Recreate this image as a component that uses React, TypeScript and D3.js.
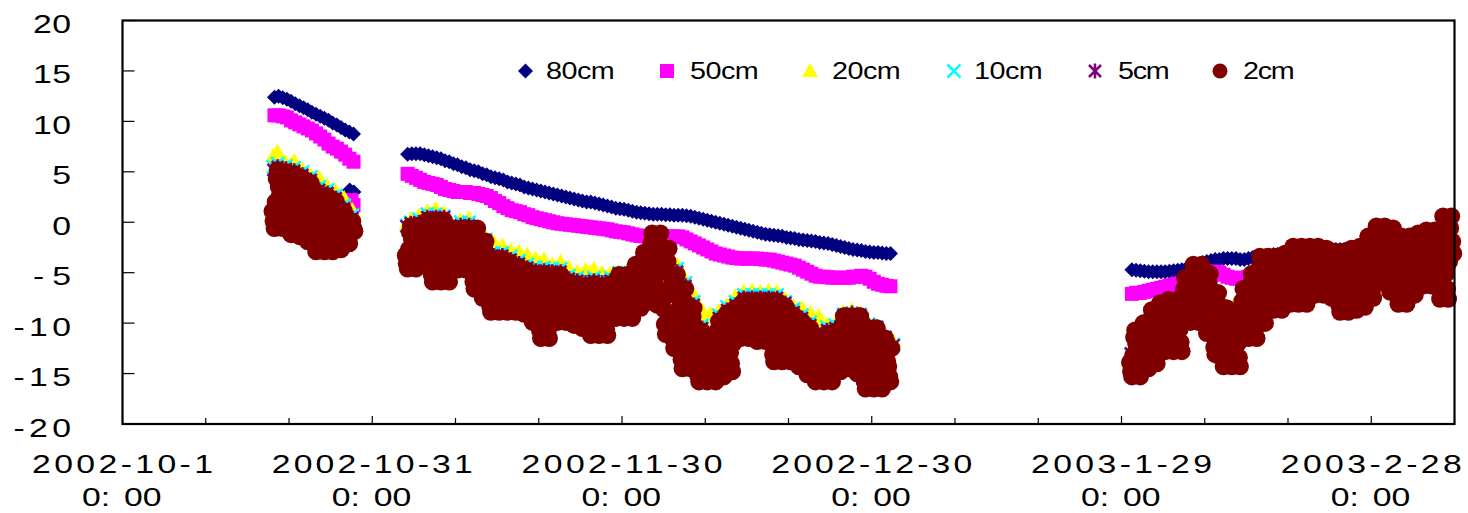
import React from "react";
import * as d3 from "d3";

// ---------- axis / labels ----------
const AXIS_START = "2002-10-01T00:00:00Z";
const AXIS_END = "2003-03-10T00:00:00Z";
const Y_TICKS = [20, 15, 10, 5, 0, -5, -10, -15, -20];
const X_TICK_EVERY_DAYS = 10;
const X_LABEL_DAYS = [0, 30, 60, 90, 120, 150];
const X_LABELS_LINE1 = ["2002-10-1", "2002-10-31", "2002-11-30", "2002-12-30", "2003-1-29", "2003-2-28"];
const X_LABEL_LINE2 = "0:00";

// ---------- series meta ----------
const SERIES_NAMES = ["80cm", "50cm", "20cm", "10cm", "5cm", "2cm"];
const SERIES_COLORS = ["#000080", "#FF00FF", "#FFFF00", "#00FFFF", "#800080", "#800000"];

// run start times (three observation periods)
const DEEP_STARTS = ["2002-10-19T06:00:00Z", "2002-11-04T06:00:00Z", "2003-01-30T06:00:00Z"]; // every 12 h
const MID_STARTS = ["2002-10-19T03:00:00Z", "2002-11-04T03:00:00Z", "2003-01-30T03:00:00Z"]; // every 12 h (03h, 15h)
const CM2_STARTS = ["2002-10-19T00:00:00Z", "2002-11-04T00:00:00Z", "2003-01-30T00:00:00Z"]; // every 3 h

// ---------- 80cm (12-hourly) ----------
const cm80_run1 = [12.4, 12.5, 12.35, 12.2, 12.0, 11.75, 11.55, 11.35, 11.15, 10.9, 10.7, 10.5, 10.3, 10.1, 9.85, 9.65, 9.4, 9.15, 8.95, 8.75];
const cm80_run2 = [
  6.75, 6.8, 6.8, 6.8, 6.7, 6.6, 6.5, 6.4, 6.3, 6.1, 6.0, 5.8, 5.7, 5.5, 5.4, 5.2, 5.1, 5.0, 4.8, 4.7,
  4.5, 4.4, 4.3, 4.2, 4.0, 3.9, 3.8, 3.7, 3.5, 3.4, 3.3, 3.2, 3.1, 3.0, 2.9, 2.8, 2.7, 2.6, 2.5, 2.4,
  2.3, 2.2, 2.1, 2.0, 2.0, 1.9, 1.8, 1.7, 1.6, 1.5, 1.4, 1.35, 1.3, 1.2, 1.1, 1.0, 0.95, 0.9, 0.85, 0.8,
  0.8, 0.8, 0.75, 0.75, 0.7, 0.7, 0.7, 0.65, 0.6, 0.5, 0.4, 0.3, 0.2, 0.1, 0.0, -0.1, -0.2, -0.3, -0.4, -0.5,
  -0.6, -0.7, -0.8, -0.9, -1.0, -1.1, -1.2, -1.25, -1.3, -1.35, -1.4, -1.5, -1.55, -1.6, -1.7, -1.75, -1.8, -1.85, -1.9, -2.0,
  -2.05, -2.1, -2.2, -2.3, -2.4, -2.5, -2.6, -2.7, -2.75, -2.8, -2.9, -2.95, -3.0, -3.0, -3.05, -3.1, -3.1,
];
const cm80_run3 = [
  -4.7, -4.75, -4.8, -4.85, -4.9, -4.9, -4.9, -4.9, -4.9, -4.85, -4.8, -4.75, -4.7, -4.6, -4.5, -4.4, -4.2, -4.0, -3.9, -3.8,
  -3.7, -3.7, -3.6, -3.6, -3.6, -3.6, -3.7, -3.7, -3.6, -3.5, -3.4, -3.4, -3.3, -3.3, -3.2, -3.2, -3.1, -3.1, -3.0, -3.0,
  -3.0, -2.9, -2.9, -2.9, -2.9, -2.8, -2.8, -2.8, -2.8, -2.7, -2.7, -2.7, -2.7, -2.6, -2.6, -2.6, -2.5, -2.5, -2.4, -2.4,
  -2.3, -2.3, -2.2, -2.2, -2.1, -2.1, -2.0, -2.0, -2.0, -1.9, -1.9, -1.9, -1.8, -1.8, -1.8, -1.7, -1.7, -1.7,
];
const cm80_extraTimes = ["2002-10-28T07:00:00Z", "2002-10-28T19:00:00Z"];
const cm80_extraValues = [3.2, 3.0];

// ---------- 50cm (12-hourly) ----------
const cm50_run1 = [10.6, 10.6, 10.5, 10.4, 10.1, 9.9, 9.7, 9.5, 9.3, 9.1, 8.8, 8.5, 8.2, 7.8, 7.5, 7.3, 7.0, 6.7, 6.3, 6.0];
const cm50_run2 = [
  4.8, 4.6, 4.4, 4.2, 4.0, 3.9, 3.8, 3.7, 3.5, 3.3, 3.2, 3.1, 3.0, 3.0, 3.0, 2.9, 2.9, 2.8, 2.7, 2.6,
  2.4, 2.1, 1.9, 1.6, 1.4, 1.2, 1.1, 1.0, 0.8, 0.7, 0.5, 0.4, 0.3, 0.2, 0.1, 0.0, -0.1, -0.15, -0.2, -0.25,
  -0.3, -0.35, -0.4, -0.45, -0.5, -0.55, -0.6, -0.65, -0.7, -0.8, -0.9, -0.95, -1.0, -1.1, -1.2, -1.3, -1.35, -1.4, -1.45, -1.5,
  -1.5, -1.5, -1.45, -1.4, -1.4, -1.4, -1.5, -1.7, -1.9, -2.1, -2.3, -2.5, -2.7, -2.9, -3.1, -3.2, -3.3, -3.4, -3.5, -3.55,
  -3.6, -3.6, -3.6, -3.6, -3.6, -3.65, -3.7, -3.7, -3.8, -3.9, -4.0, -4.1, -4.2, -4.3, -4.5, -4.7, -4.9, -5.1, -5.3, -5.4,
  -5.4, -5.45, -5.5, -5.5, -5.5, -5.5, -5.5, -5.4, -5.4, -5.3, -5.4, -5.6, -5.9, -6.1, -6.2, -6.3, -6.35,
];
const cm50_run3 = [
  -7.1, -7.0, -7.0, -6.9, -6.8, -6.7, -6.6, -6.5, -6.4, -6.3, -6.2, -6.1, -6.0, -5.9, -5.7, -5.5, -5.3, -5.1, -5.0, -4.9,
  -4.9, -5.0, -5.2, -5.4, -5.5, -5.6, -5.6, -5.5, -5.4, -5.3, -5.2, -5.1, -5.0, -4.9, -4.9, -4.8, -4.7, -4.6, -4.6, -4.5,
  -4.5, -4.4, -4.4, -4.3, -4.3, -4.2, -4.2, -4.1, -4.1, -4.0, -4.0, -4.0, -3.9, -3.9, -3.8, -3.8, -3.7, -3.6, -3.5, -3.4,
  -3.3, -3.2, -3.2, -3.1, -3.1, -3.1, -3.0, -3.0, -2.9, -2.9, -2.8, -2.7, -2.7, -2.6, -2.5, -2.4, -2.3, -2.2,
];
const cm50_extraTimes = ["2002-10-28T12:00:00Z", "2002-10-28T18:00:00Z"];
const cm50_extraValues = [2.2, 1.7];

// ---------- 20cm (12-hourly: 03h, 15h) ----------
const cm20_run1 = [6.6, 7.0, 5.6, 5.9, 5.6, 6.1, 4.9, 5.2, 4.3, 4.6, 4.1, 4.4, 3.3, 3.6, 2.8, 3.1, 2.1, 2.4, 0.9, 1.2];
const cm20_run2 = [
  -0.1, 0.3, 0.0, 0.7, 0.4, 1.1, 0.8, 1.35, 0.6, 0.9, -0.6, -0.3, -0.6, 0.2, -0.1, 0.4, -1.1, -0.8, -1.8, -1.5,
  -2.3, -2.0, -2.6, -2.3, -3.1, -2.8, -3.2, -2.9, -3.5, -3.2, -3.9, -3.6, -4.0, -3.7, -4.5, -4.2, -4.5, -3.9, -4.8, -4.5,
  -5.2, -4.9, -5.2, -4.7, -5.0, -4.6, -5.3, -5.0, -5.4, -5.1, -5.4, -4.9, -5.2, -4.8, -5.1, -4.4, -4.7, -3.5, -3.8, -2.0,
  -2.6, -2.3, -3.9, -3.6, -4.5, -4.2, -6.0, -5.7, -7.5, -7.2, -9.0, -8.7, -9.4, -9.1, -9.4, -8.8, -9.1, -8.2, -8.5, -7.3,
  -7.6, -6.9, -7.2, -6.8, -7.2, -6.9, -7.2, -6.8, -7.2, -6.9, -7.9, -7.6, -8.6, -8.3, -8.8, -8.5, -9.3, -9.0, -9.6, -9.3,
  -10.4, -10.1, -10.4, -10.0, -10.3, -8.9, -9.2, -8.7, -9.3, -9.0, -10.2, -9.9, -10.6, -10.3, -11.6, -11.3, -12.1, -11.8,
];
const cm20_run3 = [
  -13.4, -11.4, -12.6, -10.7, -11.9, -9.4, -10.6, -8.7, -9.9, -8.4, -9.6, -8.4, -9.6, -6.2, -7.4, -4.9, -6.1, -4.9, -7.0, -5.8,
  -8.9, -7.7, -10.4, -9.2, -10.4, -8.1, -9.3, -7.3, -8.5, -5.8, -7.0, -4.1, -5.3, -4.1, -5.3, -4.1, -5.3, -3.8, -5.0, -3.1,
  -4.3, -3.1, -4.3, -3.1, -4.3, -3.1, -4.5, -3.3, -4.8, -3.6, -4.8, -3.6, -4.8, -3.3, -4.5, -3.1, -4.3, -2.1, -3.3, -1.1,
  -2.3, -1.1, -2.5, -1.3, -3.3, -2.1, -3.3, -2.1, -3.3, -1.8, -3.0, -1.5, -2.7, -1.5, -2.7, -0.1, -1.3, -0.1,
];

// ---------- 10cm (12-hourly: 03h, 15h) ----------
const cm10_run1 = [5.5, 5.8, 5.4, 5.6, 5.2, 5.4, 4.8, 5.0, 4.3, 4.5, 3.3, 3.5, 3.0, 3.2, 2.5, 2.7, 1.5, 1.7, 0.5, 0.7];
const cm10_run2 = [
  -0.3, 0.0, -0.2, 0.3, 0.1, 0.8, 0.6, 0.8, 0.4, 0.6, -0.6, -0.4, -0.6, 0.0, -0.2, 0.0, -1.3, -1.1, -1.9, -1.7,
  -3.2, -3.0, -3.2, -3.0, -3.6, -3.4, -4.0, -3.8, -4.4, -4.2, -4.7, -4.5, -4.7, -4.5, -4.8, -4.6, -4.8, -4.6, -5.5, -5.3,
  -5.7, -5.5, -5.9, -5.7, -5.9, -5.5, -5.9, -5.7, -5.9, -5.5, -5.7, -5.0, -5.2, -5.0, -5.2, -4.7, -4.9, -3.5, -3.7, -1.6,
  -1.8, -1.6, -3.3, -3.1, -4.8, -4.6, -6.2, -6.0, -8.1, -7.9, -10.4, -10.2, -11.1, -10.9, -11.1, -9.2, -9.4, -8.4, -8.6, -7.9,
  -8.1, -7.2, -7.4, -7.2, -7.4, -7.2, -7.4, -7.2, -7.4, -7.2, -8.1, -7.9, -8.8, -8.6, -9.4, -9.2, -10.1, -9.9, -11.1, -10.9,
  -11.1, -10.4, -10.6, -10.2, -10.4, -9.1, -9.3, -9.0, -9.3, -9.1, -10.3, -10.1, -10.6, -10.4, -11.6, -11.4, -12.3, -12.1,
];
const cm10_run3 = [
  -13.1, -11.1, -12.3, -10.4, -11.6, -9.1, -10.3, -8.4, -9.6, -8.1, -9.3, -8.1, -9.3, -5.9, -7.1, -4.6, -5.8, -4.6, -6.7, -5.5,
  -8.6, -7.4, -10.1, -8.9, -10.4, -9.2, -10.4, -7.0, -8.2, -5.5, -6.7, -3.8, -5.0, -3.8, -5.0, -3.8, -5.0, -3.5, -4.7, -2.8,
  -4.0, -2.8, -4.0, -2.8, -4.0, -2.8, -4.2, -3.0, -4.5, -3.3, -4.5, -3.3, -4.5, -3.0, -4.2, -2.8, -4.0, -1.8, -3.0, -0.8,
  -2.0, -0.8, -2.2, -1.0, -3.0, -1.8, -3.0, -1.8, -3.0, -1.5, -2.7, -1.2, -2.4, -1.2, -2.4, 0.2, -1.0, 0.2,
];

// ---------- 5cm (12-hourly: 03h, 15h) ----------
const cm5_run1 = [5.2, 5.5, 5.1, 5.3, 4.9, 5.1, 4.5, 4.7, 4.0, 4.2, 3.0, 3.2, 2.7, 2.9, 2.2, 2.4, 1.2, 1.4, 0.2, 0.4];
const cm5_run2 = [
  -0.4, -0.1, -0.3, 0.0, -0.2, 0.5, 0.3, 0.5, 0.3, 0.5, -0.7, -0.5, -0.7, -0.3, -0.5, -0.3, -1.3, -1.1, -2.0, -1.8,
  -3.5, -3.3, -3.5, -3.3, -3.9, -3.7, -4.3, -4.1, -4.7, -4.5, -5.0, -4.8, -5.0, -4.8, -5.1, -4.9, -5.1, -4.9, -5.8, -5.6,
  -6.0, -5.8, -6.2, -6.0, -6.2, -5.8, -6.2, -6.0, -6.2, -5.8, -6.0, -5.1, -5.3, -5.1, -5.3, -4.7, -4.9, -3.5, -3.7, -1.6,
  -1.8, -1.6, -3.3, -3.1, -5.1, -4.9, -6.5, -6.3, -8.4, -8.2, -10.7, -10.5, -11.4, -11.2, -11.4, -9.5, -9.7, -8.7, -8.9, -8.2,
  -8.4, -7.5, -7.7, -7.5, -7.7, -7.5, -7.7, -7.5, -7.7, -7.5, -8.2, -8.0, -9.1, -8.9, -9.7, -9.5, -10.4, -10.2, -11.4, -11.2,
  -11.4, -10.7, -10.9, -10.5, -10.7, -9.2, -9.4, -9.0, -9.4, -9.2, -10.4, -10.2, -10.6, -10.4, -11.6, -11.4, -12.4, -12.2,
];
const cm5_run3 = [
  -13.0, -11.0, -12.2, -10.3, -11.5, -9.0, -10.2, -8.3, -9.5, -8.0, -9.2, -8.0, -9.2, -5.8, -7.0, -4.5, -5.7, -4.5, -6.6, -5.4,
  -8.5, -7.3, -10.0, -8.8, -10.3, -9.1, -10.3, -6.9, -8.1, -5.4, -6.6, -3.7, -4.9, -3.7, -4.9, -3.7, -4.9, -3.4, -4.6, -2.7,
  -3.9, -2.7, -3.9, -2.7, -3.9, -2.7, -4.1, -2.9, -4.4, -3.2, -4.4, -3.2, -4.4, -2.9, -4.1, -2.7, -3.9, -1.7, -2.9, -0.7,
  -1.9, -0.7, -2.1, -0.9, -2.9, -1.7, -2.9, -1.7, -2.9, -1.4, -2.6, -1.1, -2.3, -1.1, -2.3, 0.3, -0.9, 0.3,
];

// ---------- 2cm (3-hourly: 00,03,06,09,12,15,18,21 h) ----------
const cm2_run1 = [
  1.1, 0.1, -0.6, 2.0, 4.3, 5.2, 3.5, 2.6,
  1.1, 0.1, -0.6, 1.9, 4.2, 5.0, 3.3, 2.5,
  0.6, -0.5, -1.2, 1.5, 3.9, 4.8, 3.0, 2.1,
  0.3, -0.7, -1.4, 1.2, 3.5, 4.4, 2.7, 1.8,
  -0.2, -1.2, -1.9, 0.7, 3.0, 3.9, 2.2, 1.3,
  -1.2, -2.2, -2.9, -0.3, 2.0, 2.9, 1.2, 0.3,
  -1.3, -2.2, -2.9, -0.4, 1.8, 2.6, 1.0, 0.1,
  -1.4, -2.3, -2.9, -0.7, 1.4, 2.1, 0.6, -0.2,
  -1.6, -2.2, -2.7, -1.0, 0.5, 1.1, 0.0, -0.6,
  -1.4, -1.8, -2.1, -1.1, -0.2, 0.1, -0.6, -0.9,
];
const cm2_run2 = [
  -3.3, -4.1, -4.6, -2.7, -1.0, -0.4, -1.7, -2.3,
  -3.3, -4.1, -4.6, -2.7, -0.9, -0.3, -1.6, -2.2,
  -2.5, -3.2, -3.7, -1.9, -0.4, 0.2, -1.0, -1.6,
  -4.1, -5.2, -5.9, -3.2, -0.7, 0.2, -1.6, -2.5,
  -4.1, -5.2, -5.9, -3.1, -0.7, 0.2, -1.7, -2.6,
  -4.3, -5.3, -5.9, -3.5, -1.4, -0.6, -2.2, -3.0,
  -3.5, -4.2, -4.7, -2.9, -1.2, -0.6, -1.8, -2.4,
  -3.5, -4.2, -4.7, -2.8, -1.2, -0.6, -1.9, -2.5,
  -4.8, -5.9, -6.6, -3.9, -1.5, -0.6, -2.4, -3.3,
  -5.8, -6.8, -7.5, -5.0, -2.7, -1.9, -3.6, -4.4,
  -7.3, -8.3, -8.9, -6.5, -4.4, -3.6, -5.2, -6.0,
  -7.3, -8.3, -8.9, -6.4, -4.4, -3.6, -5.3, -6.0,
  -7.4, -8.3, -8.9, -6.7, -4.7, -4.0, -5.5, -6.2,
  -7.6, -8.4, -8.9, -6.9, -5.1, -4.4, -5.8, -6.4,
  -7.8, -8.6, -9.1, -7.2, -5.4, -4.8, -6.1, -6.7,
  -8.5, -9.3, -9.9, -7.7, -5.8, -5.1, -6.5, -7.3,
  -9.6, -10.7, -11.5, -8.6, -6.1, -5.1, -7.0, -8.0,
  -9.6, -10.7, -11.5, -8.7, -6.1, -5.2, -7.1, -8.0,
  -8.5, -9.3, -9.9, -7.8, -5.9, -5.2, -6.6, -7.3,
  -8.7, -9.4, -9.9, -8.1, -6.5, -5.9, -7.1, -7.7,
  -9.0, -9.7, -10.2, -8.4, -6.7, -6.1, -7.3, -7.9,
  -9.2, -10.0, -10.5, -8.6, -6.9, -6.3, -7.6, -8.2,
  -9.7, -10.6, -11.2, -8.9, -6.9, -6.1, -7.6, -8.4,
  -9.7, -10.6, -11.2, -9.0, -7.0, -6.3, -7.8, -8.5,
  -9.8, -10.6, -11.2, -8.9, -6.9, -6.1, -7.5, -8.4,
  -8.2, -9.0, -9.5, -7.6, -5.8, -5.2, -6.5, -7.1,
  -8.2, -9.0, -9.5, -7.5, -5.8, -5.2, -6.5, -7.2,
  -7.9, -8.9, -9.5, -7.1, -5.0, -4.2, -5.8, -6.6,
  -6.9, -7.8, -8.5, -6.0, -3.8, -3.0, -4.7, -5.5,
  -5.9, -7.1, -7.9, -4.8, -2.1, -1.1, -3.1, -4.2,
  -6.1, -7.4, -8.2, -5.0, -2.2, -1.1, -3.2, -4.3,
  -8.6, -10.1, -11.1, -7.3, -3.9, -2.6, -5.2, -6.4,
  -10.3, -11.6, -12.5, -9.2, -6.3, -5.2, -7.4, -8.5,
  -12.1, -13.6, -14.5, -10.9, -7.8, -6.6, -9.0, -10.2,
  -12.7, -13.8, -14.5, -11.8, -9.4, -8.5, -10.3, -11.2,
  -14.3, -15.2, -15.8, -13.6, -11.6, -10.8, -12.3, -13.1,
  -14.5, -15.3, -15.8, -13.9, -12.1, -11.5, -12.8, -13.4,
  -14.0, -15.1, -15.8, -13.1, -10.7, -9.8, -11.6, -12.5,
  -13.4, -14.5, -15.3, -12.5, -9.9, -9.0, -10.9, -11.8,
  -12.9, -14.0, -14.8, -12.0, -9.4, -8.5, -10.4, -11.3,
  -10.4, -11.1, -11.5, -9.8, -8.4, -7.8, -8.9, -9.5,
  -10.4, -11.1, -11.5, -9.8, -8.4, -7.8, -8.9, -9.5,
  -10.6, -11.3, -11.8, -10.0, -8.4, -7.8, -9.0, -9.6,
  -10.6, -11.3, -11.8, -10.0, -8.4, -7.8, -9.0, -9.6,
  -12.0, -13.1, -13.8, -11.1, -8.7, -7.8, -9.6, -10.5,
  -12.2, -13.1, -13.8, -11.3, -9.1, -8.3, -10.0, -10.8,
  -12.4, -13.3, -13.8, -11.7, -9.9, -9.2, -10.6, -11.3,
  -13.0, -13.8, -14.3, -12.3, -10.5, -9.8, -11.2, -11.8,
  -13.7, -14.6, -15.1, -13.0, -11.2, -10.5, -11.9, -12.6,
  -14.5, -15.3, -15.8, -13.9, -12.1, -11.5, -12.8, -13.4,
  -14.4, -15.2, -15.8, -13.6, -11.7, -11.0, -12.4, -13.2,
  -14.3, -15.2, -15.8, -13.6, -11.6, -10.8, -12.3, -13.1,
  -13.2, -14.1, -14.8, -12.3, -10.1, -9.3, -11.0, -11.8,
  -12.9, -13.9, -14.5, -12.2, -10.1, -9.3, -10.9, -11.6,
  -13.3, -14.3, -15.0, -12.4, -10.2, -9.3, -11.0, -11.9,
  -14.7, -15.8, -16.5, -13.8, -11.4, -10.5, -12.3, -13.2,
  -14.7, -15.8, -16.5, -13.8, -11.4, -10.5, -12.3, -13.2,
  -15.0, -15.9, -16.5, -14.3, -12.3, -11.5, -13.0, -13.8,
  -14.3, -15.3, -15.8, -12.5,
];
const cm2_run3 = [
  -13.9, -14.8, -15.3, -13.2, -11.4, -10.7, -12.1, -12.8,
  -13.7, -14.7, -15.3, -12.9, -10.8, -10.0, -11.6, -12.4,
  -12.8, -13.8, -14.5, -11.9, -9.6, -8.7, -10.4, -11.3,
  -12.2, -13.3, -14.0, -11.3, -8.9, -8.0, -9.8, -10.7,
  -11.3, -12.2, -12.8, -10.5, -8.5, -7.7, -9.2, -10.0,
  -11.3, -12.2, -12.8, -10.5, -8.5, -7.7, -9.2, -10.0,
  -10.6, -11.9, -12.8, -9.5, -6.6, -5.5, -7.7, -8.8,
  -8.2, -9.2, -9.9, -7.3, -5.1, -4.2, -5.9, -6.8,
  -8.2, -9.2, -9.9, -7.3, -5.1, -4.2, -5.9, -6.8,
  -9.2, -10.3, -11.0, -8.3, -6.0, -5.1, -6.9, -7.8,
  -11.3, -12.4, -13.1, -10.4, -7.9, -7.0, -8.8, -9.7,
  -12.6, -13.6, -14.3, -11.7, -9.4, -8.5, -10.2, -11.1,
  -12.7, -13.6, -14.3, -11.8, -9.6, -8.8, -10.5, -11.3,
  -12.0, -13.4, -14.3, -10.8, -7.8, -6.6, -8.9, -10.1,
  -9.6, -10.7, -11.5, -8.6, -6.1, -5.1, -7.0, -8.0,
  -9.1, -10.5, -11.5, -7.9, -4.6, -3.4, -5.8, -7.0,
  -8.0, -9.2, -10.0, -7.0, -4.4, -3.4, -5.4, -6.4,
  -7.1, -8.1, -8.7, -6.3, -4.2, -3.4, -5.0, -5.8,
  -7.0, -8.0, -8.7, -6.2, -3.9, -3.1, -4.8, -5.6,
  -6.4, -7.4, -8.1, -5.5, -3.3, -2.4, -4.1, -5.0,
  -6.4, -7.4, -8.1, -5.5, -3.2, -2.4, -4.2, -5.0,
  -6.5, -7.4, -8.1, -5.6, -3.3, -2.4, -4.1, -4.9,
  -5.8, -6.6, -7.2, -5.0, -3.1, -2.4, -3.8, -4.6,
  -5.8, -6.7, -7.2, -5.1, -3.3, -2.6, -4.0, -4.7,
  -6.1, -7.0, -7.5, -5.4, -3.6, -2.9, -4.3, -5.0,
  -7.1, -8.2, -8.9, -6.2, -3.8, -2.9, -4.7, -5.6,
  -7.0, -8.1, -8.9, -6.1, -3.5, -2.6, -4.5, -5.4,
  -6.8, -7.9, -8.7, -5.9, -3.3, -2.4, -4.3, -5.2,
  -6.3, -7.6, -8.4, -5.3, -2.5, -1.4, -3.5, -4.6,
  -5.4, -6.7, -7.5, -4.3, -1.5, -0.4, -2.5, -3.6,
  -4.3, -5.2, -5.9, -3.4, -1.2, -0.4, -2.1, -2.9,
  -5.0, -6.1, -6.9, -4.1, -1.5, -0.6, -2.5, -3.4,
  -6.1, -7.3, -8.1, -5.1, -2.4, -1.4, -3.4, -4.4,
  -6.1, -7.3, -8.1, -5.1, -2.4, -1.4, -3.4, -4.4,
  -5.4, -6.5, -7.2, -4.5, -2.0, -1.1, -2.9, -3.8,
  -4.7, -5.6, -6.3, -3.8, -1.6, -0.8, -2.5, -3.3,
  -4.7, -5.6, -6.3, -3.8, -1.6, -0.8, -2.5, -3.3,
  -5.1, -6.6, -7.6, -3.9, -0.6, 0.6, -1.9, -3.1,
  -5.1, -6.6, -7.6, -3.9, -0.6, 0.6, -1.9, -3.1,
];

// ---------- helpers ----------
type Pt = { t: Date; v: number };
const HOUR_MS = 3600 * 1000;
function run(start: string, stepHours: number, values: number[]): Pt[] {
  const t0 = new Date(start).getTime();
  return values.map((v, i) => ({ t: new Date(t0 + i * stepHours * HOUR_MS), v }));
}
function extra(times: string[], values: number[]): Pt[] {
  return values.map((v, i) => ({ t: new Date(times[i]), v }));
}

const SERIES_POINTS: Pt[][] = [
  [...run(DEEP_STARTS[0], 12, cm80_run1), ...extra(cm80_extraTimes, cm80_extraValues), ...run(DEEP_STARTS[1], 12, cm80_run2), ...run(DEEP_STARTS[2], 12, cm80_run3)],
  [...run(DEEP_STARTS[0], 12, cm50_run1), ...extra(cm50_extraTimes, cm50_extraValues), ...run(DEEP_STARTS[1], 12, cm50_run2), ...run(DEEP_STARTS[2], 12, cm50_run3)],
  [...run(MID_STARTS[0], 12, cm20_run1), ...run(MID_STARTS[1], 12, cm20_run2), ...run(MID_STARTS[2], 12, cm20_run3)],
  [...run(MID_STARTS[0], 12, cm10_run1), ...run(MID_STARTS[1], 12, cm10_run2), ...run(MID_STARTS[2], 12, cm10_run3)],
  [...run(MID_STARTS[0], 12, cm5_run1), ...run(MID_STARTS[1], 12, cm5_run2), ...run(MID_STARTS[2], 12, cm5_run3)],
  [...run(CM2_STARTS[0], 3, cm2_run1), ...run(CM2_STARTS[1], 3, cm2_run2), ...run(CM2_STARTS[2], 3, cm2_run3)],
];

const SHAPES = ["diamond", "square", "triangle", "x", "star", "circle"];

function Marker({ shape, color, x, y, legend }: { shape: string; color: string; x: number; y: number; legend?: boolean }) {
  const tr = `translate(${x},${y})`;
  switch (shape) {
    case "diamond":
      return <path transform={tr} d="M0,-7.5L7.5,0L0,7.5L-7.5,0Z" fill={color} />;
    case "square":
      return <path transform={tr} d="M-7,-7h14v14h-14Z" fill={color} />;
    case "triangle":
      return <path transform={tr} d="M0,-8L8,6L-8,6Z" fill={color} />;
    case "x":
      return <path transform={tr} d="M-6.5,-6.5L6.5,6.5M-6.5,6.5L6.5,-6.5" stroke={color} strokeWidth={2.5} fill="none" />;
    case "star":
      return <path transform={tr} d="M-6,-6L6,6M-6,6L6,-6M0,-7.5L0,7.5" stroke={color} strokeWidth={2.5} fill="none" />;
    default:
      return <circle cx={x} cy={y} r={legend ? 7.5 : 8.8} fill={color} />;
  }
}

const FONT = "'Liberation Sans', Arial, sans-serif";
const SX = 1.35; // horizontal stretch of the original chart's lettering

function SText({ x, y, text, width, size = 25, sx = SX, anchor = "start" }: { x: number; y: number; text: string; width?: number; size?: number; sx?: number; anchor?: string }) {
  return (
    <text
      transform={`translate(${x},${y}) scale(${sx},1)`}
      x={0}
      y={0}
      textAnchor={anchor}
      textLength={width ? width / sx : undefined}
      lengthAdjust={width ? "spacing" : undefined}
      fontFamily={FONT}
      fontSize={size}
      fill="#000"
    >
      {text}
    </text>
  );
}

export default function App() {
  const left = 122.5, right = 1454.5, top = 20.5, bottom = 424;
  const start = new Date(AXIS_START);
  const x = d3.scaleUtc().domain([start, new Date(AXIS_END)]).range([left, right]);
  const y = d3.scaleLinear().domain([-20, 20]).range([bottom, top]);

  const tickDays = d3.range(0, 161, X_TICK_EVERY_DAYS);

  const legendMarkerX = [525.5, 667, 810, 954, 1095, 1220];
  const legendTextX = [546, 690, 832, 974, 1118, 1243];
  const legendY = 71;

  return (
    <svg width={1468} height={513} style={{ position: "absolute", left: 0, top: 0, background: "#fff", display: "block" }}>
      <rect x={0} y={0} width={1468} height={513} fill="#fff" />
      {SERIES_POINTS.map((pts, si) => (
        <g key={SERIES_NAMES[si]}>
          {pts.map((p, i) => (
            <Marker key={i} shape={SHAPES[si]} color={SERIES_COLORS[si]} x={x(p.t)} y={y(p.v)} />
          ))}
        </g>
      ))}
      <rect x={left} y={top} width={right - left} height={bottom - top} fill="none" stroke="#000" strokeWidth={2.2} />
      {Y_TICKS.map((v) => {
        const s = String(v);
        const w = s.length >= 2 ? 19.5 * s.length - 1 : undefined;
        return (
          <g key={v}>
            <line x1={left} x2={left + 12} y1={y(v)} y2={y(v)} stroke="#000" strokeWidth={1.2} />
            {w ? <SText x={71 - w} y={y(v) + 12.5} text={s} width={w} /> : <SText x={71} y={y(v) + 12.5} text={s} anchor="end" />}
          </g>
        );
      })}
      {tickDays.map((d) => {
        const xx = x(d3.utcDay.offset(start, d));
        const major = X_LABEL_DAYS.includes(d);
        return <line key={d} x1={xx} x2={xx} y1={bottom} y2={bottom - (major ? 8 : 6)} stroke="#000" strokeWidth={1.2} />;
      })}
      {X_LABEL_DAYS.map((d, i) => {
        const xx = x(d3.utcDay.offset(start, d));
        const l1 = X_LABELS_LINE1[i];
        const w1 = 20.1 * l1.length;
        return (
          <g key={d}>
            <SText x={xx - w1 / 2} y={473} text={l1} width={w1} />
            <text transform={`translate(${xx - 40.5},506) scale(${SX},1)`} fontFamily={FONT} fontSize={25} fill="#000">
              <tspan>{X_LABEL_LINE2.slice(0, 2)}</tspan>
              <tspan dx={10.3}>{X_LABEL_LINE2.slice(2)}</tspan>
            </text>
          </g>
        );
      })}
      {SERIES_NAMES.map((n, i) => (
        <g key={n}>
          <Marker shape={SHAPES[i]} color={SERIES_COLORS[i]} x={legendMarkerX[i]} y={legendY} legend />
          <SText x={legendTextX[i]} y={legendY + 8} text={n} width={17.2 * n.length} size={23} sx={1.25} />
        </g>
      ))}
    </svg>
  );
}
